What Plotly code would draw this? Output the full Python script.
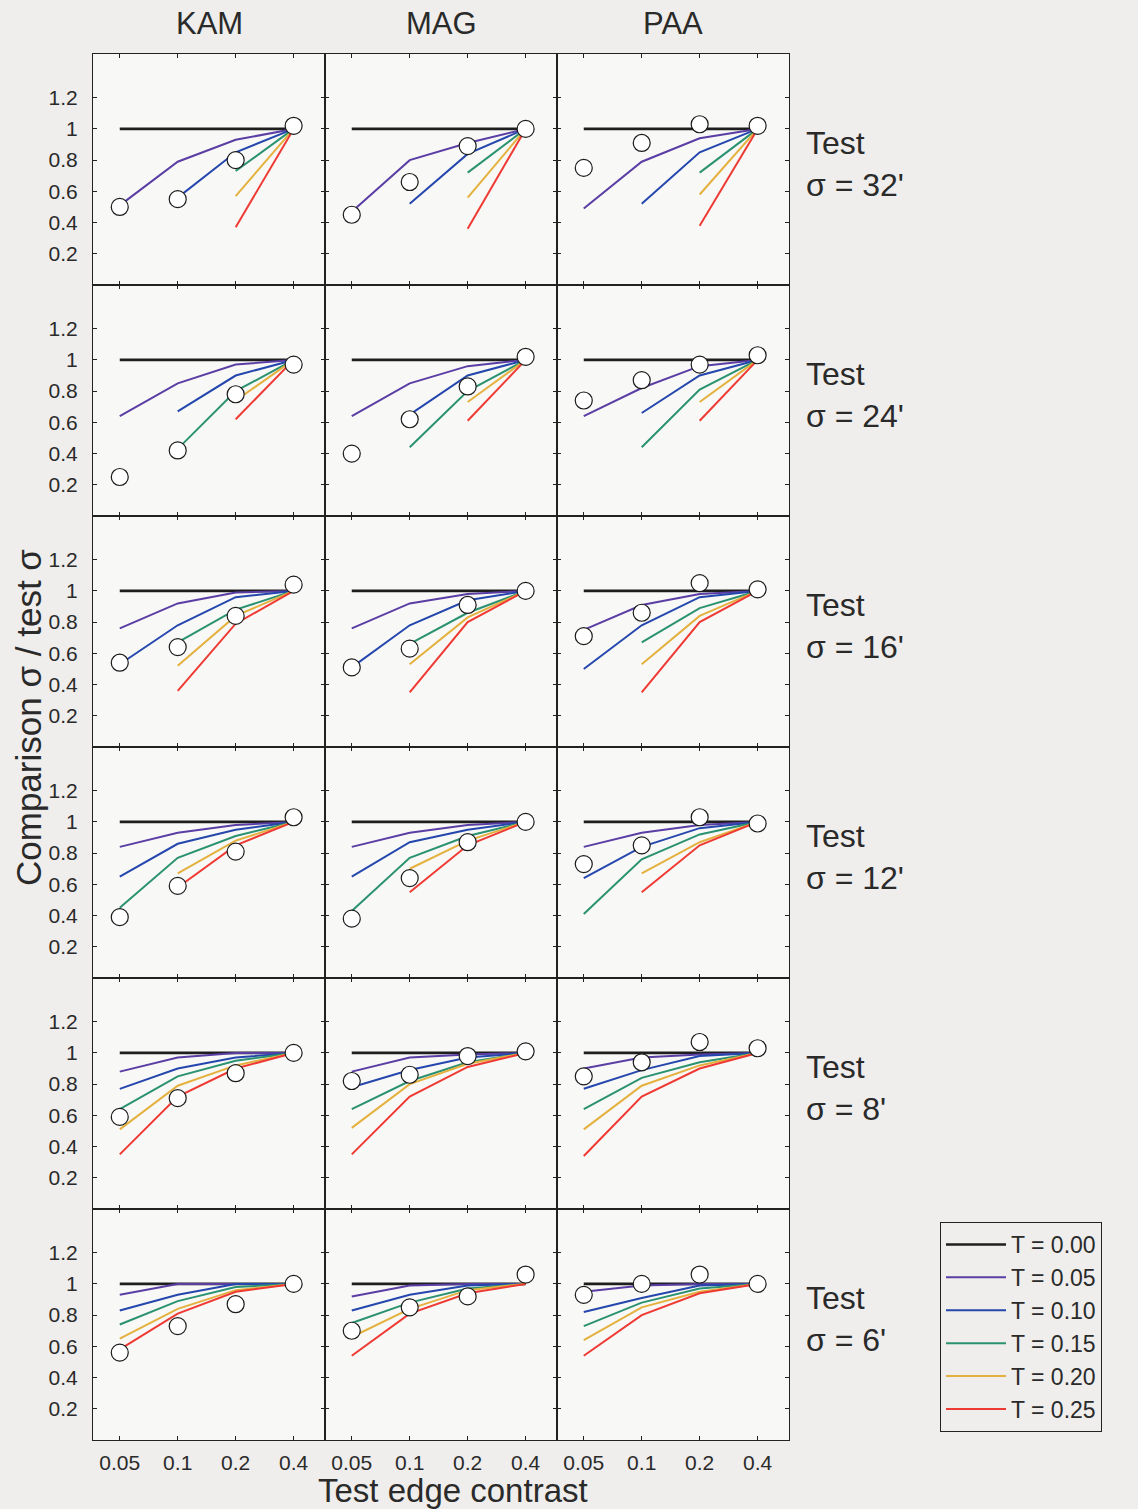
import plotly.graph_objects as go

# ---------------- data ----------------
contrast = [0.05, 0.1, 0.2, 0.4]
x_ticktext = ["0.05", "0.1", "0.2", "0.4"]
y_tickvals = [0.2, 0.4, 0.6, 0.8, 1.0, 1.2]
y_ticktext = ["0.2", "0.4", "0.6", "0.8", "1", "1.2"]

subjects = ["KAM", "MAG", "PAA"]
sigmas = ["32'", "24'", "16'", "12'", "8'", "6'"]
t_labels = ["T = 0.00", "T = 0.05", "T = 0.10", "T = 0.15", "T = 0.20", "T = 0.25"]
t_colors = ["#1e1e1e", "#5a3ea4", "#2547ad", "#2a9270", "#e4b13e", "#ef3a33"]

N = None
# model curves: one list per T value (T = 0.00 ... 0.25); obs = measured points
KAM_32 = [[1, 1, 1, 1], [0.51, 0.79, 0.93, 1.0], [N, 0.56, 0.85, 1.0], [N, N, 0.73, 1.0], [N, N, 0.57, 1.0], [N, N, 0.37, 1.0]]
KAM_32_obs = [0.50, 0.55, 0.80, 1.02]
MAG_32 = [[1, 1, 1, 1], [0.47, 0.80, 0.91, 1.0], [N, 0.52, 0.84, 1.0], [N, N, 0.72, 1.0], [N, N, 0.56, 1.0], [N, N, 0.36, 1.0]]
MAG_32_obs = [0.45, 0.66, 0.89, 1.0]
PAA_32 = [[1, 1, 1, 1], [0.49, 0.79, 0.94, 1.0], [N, 0.52, 0.85, 1.0], [N, N, 0.72, 1.0], [N, N, 0.58, 1.0], [N, N, 0.38, 1.0]]
PAA_32_obs = [0.75, 0.91, 1.03, 1.02]

KAM_24 = [[1, 1, 1, 1], [0.64, 0.85, 0.97, 1.0], [N, 0.67, 0.90, 1.0], [N, 0.43, 0.80, 1.0], [N, N, 0.74, 1.0], [N, N, 0.62, 1.0]]
KAM_24_obs = [0.25, 0.42, 0.78, 0.97]
MAG_24 = [[1, 1, 1, 1], [0.64, 0.85, 0.96, 1.0], [N, 0.65, 0.90, 1.0], [N, 0.44, 0.80, 1.0], [N, N, 0.73, 1.0], [N, N, 0.61, 1.0]]
MAG_24_obs = [0.40, 0.62, 0.83, 1.02]
PAA_24 = [[1, 1, 1, 1], [0.64, 0.82, 0.96, 1.0], [N, 0.66, 0.90, 1.0], [N, 0.44, 0.81, 1.0], [N, N, 0.73, 1.0], [N, N, 0.61, 1.0]]
PAA_24_obs = [0.74, 0.87, 0.97, 1.03]

KAM_16 = [[1, 1, 1, 1], [0.76, 0.92, 0.99, 1.0], [0.53, 0.78, 0.96, 1.0], [N, 0.67, 0.88, 1.0], [N, 0.52, 0.84, 1.0], [N, 0.36, 0.79, 1.0]]
KAM_16_obs = [0.54, 0.64, 0.84, 1.04]
MAG_16 = [[1, 1, 1, 1], [0.76, 0.92, 0.98, 1.0], [0.51, 0.78, 0.94, 1.0], [N, 0.66, 0.86, 1.0], [N, 0.53, 0.83, 1.0], [N, 0.35, 0.80, 1.0]]
MAG_16_obs = [0.51, 0.63, 0.91, 1.0]
PAA_16 = [[1, 1, 1, 1], [0.75, 0.91, 0.98, 1.0], [0.50, 0.78, 0.96, 1.0], [N, 0.67, 0.89, 1.0], [N, 0.53, 0.84, 1.0], [N, 0.35, 0.80, 1.0]]
PAA_16_obs = [0.71, 0.86, 1.05, 1.01]

KAM_12 = [[1, 1, 1, 1], [0.84, 0.93, 0.98, 1.0], [0.65, 0.86, 0.95, 1.0], [0.45, 0.77, 0.91, 1.0], [N, 0.67, 0.88, 1.0], [N, 0.58, 0.85, 1.0]]
KAM_12_obs = [0.39, 0.59, 0.81, 1.03]
MAG_12 = [[1, 1, 1, 1], [0.84, 0.93, 0.98, 1.0], [0.65, 0.87, 0.95, 1.0], [0.43, 0.77, 0.91, 1.0], [N, 0.70, 0.88, 1.0], [N, 0.55, 0.85, 1.0]]
MAG_12_obs = [0.38, 0.64, 0.87, 1.0]
PAA_12 = [[1, 1, 1, 1], [0.84, 0.93, 0.98, 1.0], [0.64, 0.84, 0.96, 1.0], [0.41, 0.76, 0.92, 1.0], [N, 0.67, 0.87, 1.0], [N, 0.55, 0.85, 1.0]]
PAA_12_obs = [0.73, 0.85, 1.03, 0.99]

KAM_8 = [[1, 1, 1, 1], [0.88, 0.97, 1.0, 1.0], [0.77, 0.90, 0.97, 1.0], [0.64, 0.85, 0.95, 1.0], [0.51, 0.79, 0.92, 1.0], [0.35, 0.72, 0.90, 1.0]]
KAM_8_obs = [0.59, 0.71, 0.87, 1.0]
MAG_8 = [[1, 1, 1, 1], [0.88, 0.97, 0.99, 1.0], [0.78, 0.89, 0.97, 1.0], [0.64, 0.82, 0.94, 1.0], [0.52, 0.80, 0.93, 1.0], [0.35, 0.72, 0.91, 1.0]]
MAG_8_obs = [0.82, 0.86, 0.98, 1.01]
PAA_8 = [[1, 1, 1, 1], [0.90, 0.97, 0.99, 1.0], [0.77, 0.89, 0.98, 1.0], [0.64, 0.84, 0.94, 1.0], [0.51, 0.79, 0.92, 1.0], [0.34, 0.72, 0.90, 1.0]]
PAA_8_obs = [0.85, 0.94, 1.07, 1.03]

KAM_6 = [[1, 1, 1, 1], [0.93, 1.0, 1.0, 1.0], [0.83, 0.93, 1.0, 1.0], [0.74, 0.89, 0.98, 1.0], [0.65, 0.84, 0.96, 1.0], [0.58, 0.81, 0.95, 1.0]]
KAM_6_obs = [0.56, 0.73, 0.87, 1.0]
MAG_6 = [[1, 1, 1, 1], [0.92, 0.99, 1.0, 1.0], [0.83, 0.93, 0.99, 1.0], [0.75, 0.88, 0.97, 1.0], [0.66, 0.84, 0.96, 1.0], [0.54, 0.81, 0.94, 1.0]]
MAG_6_obs = [0.70, 0.85, 0.92, 1.06]
PAA_6 = [[1, 1, 1, 1], [0.95, 0.99, 1.0, 1.0], [0.82, 0.91, 0.99, 1.0], [0.73, 0.88, 0.97, 1.0], [0.64, 0.85, 0.95, 1.0], [0.54, 0.80, 0.94, 1.0]]
PAA_6_obs = [0.93, 1.0, 1.06, 1.0]

models = [[KAM_32, MAG_32, PAA_32], [KAM_24, MAG_24, PAA_24], [KAM_16, MAG_16, PAA_16],
          [KAM_12, MAG_12, PAA_12], [KAM_8, MAG_8, PAA_8], [KAM_6, MAG_6, PAA_6]]
observed = [[KAM_32_obs, MAG_32_obs, PAA_32_obs], [KAM_24_obs, MAG_24_obs, PAA_24_obs],
            [KAM_16_obs, MAG_16_obs, PAA_16_obs], [KAM_12_obs, MAG_12_obs, PAA_12_obs],
            [KAM_8_obs, MAG_8_obs, PAA_8_obs], [KAM_6_obs, MAG_6_obs, PAA_6_obs]]

# ---------------- layout geometry (pixels) ----------------
W, H = 1138, 1509
col_edges = [93, 325, 557, 789]
row_edges = [54, 285, 516, 747, 978, 1209, 1440]
FONT = "Liberation Sans, Arial, sans-serif"
TXT = "#2a2a2a"

fig = go.Figure()
layout = {}

for r in range(6):
    for c in range(3):
        idx = r * 3 + c + 1
        xa = "x" if idx == 1 else f"x{idx}"
        ya = "y" if idx == 1 else f"y{idx}"
        for k in range(6):
            fig.add_trace(go.Scatter(
                x=contrast, y=models[r][c][k], mode="lines",
                line=dict(color=t_colors[k], width=2.6 if k == 0 else 2),
                name=t_labels[k], legendgroup=t_labels[k],
                showlegend=(idx == 1), xaxis=xa, yaxis=ya, connectgaps=False,
                hoverinfo="skip"))
        fig.add_trace(go.Scatter(
            x=contrast, y=observed[r][c], mode="markers",
            marker=dict(symbol="circle", size=17, color="white",
                        line=dict(color="#1a1a1a", width=1.2)),
            showlegend=False, xaxis=xa, yaxis=ya))

        x0, x1 = col_edges[c] / W, col_edges[c + 1] / W
        y1, y0 = 1 - row_edges[r] / H, 1 - row_edges[r + 1] / H
        xkey = "xaxis" if idx == 1 else f"xaxis{idx}"
        ykey = "yaxis" if idx == 1 else f"yaxis{idx}"
        bottom = (r == 5)
        left = (c == 0)
        layout[xkey] = dict(
            domain=[x0, x1], anchor=ya, type="log",
            range=[-1.44, -0.235],
            tickvals=contrast, ticktext=x_ticktext if bottom else [""] * 4,
            showticklabels=bottom, ticks="inside", ticklen=4, tickwidth=1,
            tickcolor="#222", mirror="ticks", showline=True, linecolor="#222",
            linewidth=1.2, showgrid=False, zeroline=False, ticklabelstandoff=4,
            tickfont=dict(family=FONT, size=21, color=TXT), automargin=False)
        layout[ykey] = dict(
            domain=[y0, y1], anchor=xa, range=[0.0, 1.48],
            tickvals=y_tickvals, ticktext=y_ticktext,
            showticklabels=left, ticks="inside", ticklen=4, tickwidth=1,
            tickcolor="#222", mirror="ticks", showline=True, linecolor="#222",
            linewidth=1.2, showgrid=False, zeroline=False, ticklabelstandoff=10,
            tickfont=dict(family=FONT, size=21, color=TXT), automargin=False)

annotations = []
col_centers = [(col_edges[i] + col_edges[i + 1]) / 2 for i in range(3)]
for c, name in enumerate(subjects):
    annotations.append(dict(text=name, x=col_centers[c] / W, y=1 - 24 / H,
                            xref="paper", yref="paper", showarrow=False,
                            xanchor="center", yanchor="middle",
                            font=dict(family=FONT, size=31, color=TXT)))
for r, s in enumerate(sigmas):
    yc = (row_edges[r] + row_edges[r + 1]) / 2 - 6
    annotations.append(dict(text=f"Test<br>σ = {s}", x=804 / W, y=1 - yc / H,
                            xref="paper", yref="paper", showarrow=False,
                            xanchor="left", yanchor="middle", align="left",
                            font=dict(family=FONT, size=32, color=TXT)))
annotations.append(dict(text="Comparison σ / test σ", x=28 / W, y=1 - 718 / H,
                        xref="paper", yref="paper", showarrow=False, textangle=-90,
                        xanchor="center", yanchor="middle",
                        font=dict(family=FONT, size=35, color=TXT)))
annotations.append(dict(text="Test edge contrast", x=453 / W, y=1 - 1490 / H,
                        xref="paper", yref="paper", showarrow=False,
                        xanchor="center", yanchor="middle",
                        font=dict(family=FONT, size=33, color=TXT)))

fig.update_layout(
    width=W, height=H, margin=dict(l=0, r=0, t=0, b=0),
    paper_bgcolor="#efeeec", plot_bgcolor="#f8f8f7",
    showlegend=True,
    legend=dict(x=940 / W, y=1 - 1222 / H, xanchor="left", yanchor="top",
                bordercolor="#222", borderwidth=1, bgcolor="rgba(0,0,0,0)",
                font=dict(family=FONT, size=23, color=TXT), tracegroupgap=0,
                itemwidth=60),
    annotations=annotations,
    **layout)

fig.write_html("out.html")
